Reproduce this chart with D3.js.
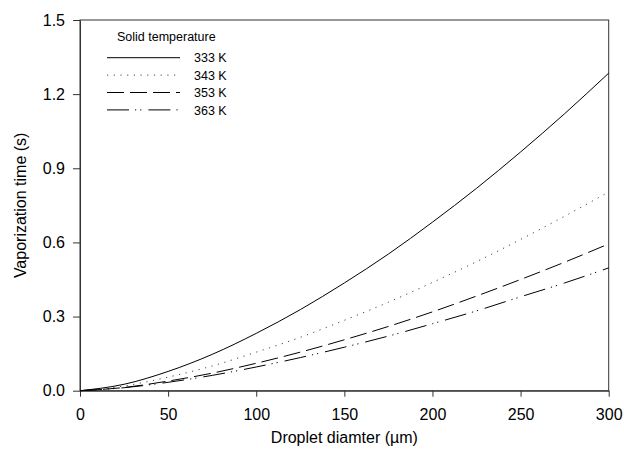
<!DOCTYPE html>
<html>
<head>
<meta charset="utf-8">
<script src="https://cdn.jsdelivr.net/npm/d3@7"></script>
<style>
  body { margin: 0; background: #fff; }
  svg { display: block; font-family: "Liberation Sans", Arial, sans-serif; }
</style>
</head>
<body>
<svg id="chart" width="624" height="450"></svg>
<script>
let WIDTH = 624, HEIGHT = 450;
let M = { top: 20, right: 15.3, bottom: 59.3, left: 80 };

// droplet diameter (um)
let diameters = [0, 25, 50, 75, 100, 125, 150, 175, 200, 225, 250, 275, 300];
// vaporization time (s)
let t333 = [0, 0.026, 0.078, 0.147, 0.232, 0.328, 0.436, 0.553, 0.682, 0.819, 0.966, 1.121, 1.285];
let t343 = [0, 0.019, 0.055, 0.100, 0.156, 0.216, 0.285, 0.358, 0.438, 0.522, 0.612, 0.706, 0.804];
let t353 = [0, 0.013, 0.039, 0.071, 0.111, 0.156, 0.206, 0.260, 0.319, 0.383, 0.450, 0.520, 0.594];
let t363 = [0, 0.012, 0.034, 0.062, 0.096, 0.134, 0.176, 0.221, 0.271, 0.323, 0.380, 0.436, 0.497];

let seriesNames = ["333 K", "343 K", "353 K", "363 K"];
let xTicks = [0, 50, 100, 150, 200, 250, 300];
let yTicks = [0, 0.3, 0.6, 0.9, 1.2, 1.5];

let styles = [
    { dash: null, color: "#000" },
    { dash: "1.2,5.5", color: "#444" },
    { dash: "17,6", color: "#000" },
    { dash: "22,6,1.2,4,1.2,7", color: "#000" }
];

let svg = d3.select("#chart");

let x = d3.scaleLinear().domain([0, 300]).range([M.left, WIDTH - M.right]);
let y = d3.scaleLinear().domain([0, 1.5]).range([HEIGHT - M.bottom, M.top]);

// frame
svg.append("rect")
    .attr("x", x(0)).attr("y", y(1.5))
    .attr("width", x(300) - x(0)).attr("height", y(0) - y(1.5))
    .attr("fill", "none").attr("stroke", "#333").attr("stroke-width", 1);

let xAxis = svg.append("g")
    .attr("transform", `translate(0,${y(0)})`)
    .call(d3.axisBottom(x).tickValues(xTicks).tickSize(6).tickPadding(12).tickSizeOuter(0).tickFormat(d3.format("d")));

let yAxis = svg.append("g")
    .attr("transform", `translate(${x(0)},0)`)
    .call(d3.axisLeft(y).tickValues(yTicks).tickSize(7).tickPadding(8).tickSizeOuter(0).tickFormat(d3.format(".1f")));

[xAxis, yAxis].forEach(function (g) {
    g.selectAll("path, line").attr("stroke", "#333");
    g.selectAll("text").attr("fill", "#000").style("font-size", "16px")
        .style("font-family", '"Liberation Sans", Arial, sans-serif');
});

// curves
let series = [t333, t343, t353, t363].map(function (vals, i) {
    return { name: seriesNames[i], pts: diameters.map((d, j) => [d, vals[j]]) };
});

let line = d3.line()
    .x(d => x(d[0]))
    .y(d => y(d[1]))
    .curve(d3.curveMonotoneX);

svg.append("g").selectAll("path")
    .data(series)
    .join("path")
    .attr("d", d => line(d.pts))
    .attr("fill", "none")
    .attr("stroke", (d, i) => styles[i].color)
    .attr("stroke-width", 1)
    .attr("stroke-dasharray", (d, i) => styles[i].dash);

// axis titles
svg.append("text")
    .attr("x", (x(0) + x(300)) / 2)
    .attr("y", 443)
    .attr("text-anchor", "middle")
    .style("font-size", "16px")
    .text("Droplet diamter (\u00b5m)");

svg.append("text")
    .attr("transform", `translate(26,${(y(0) + y(1.5)) / 2}) rotate(-90)`)
    .attr("text-anchor", "middle")
    .style("font-size", "16px")
    .text("Vaporization time (s)");

// legend
let legend = svg.append("g");
legend.append("text")
    .attr("x", 117).attr("y", 40.7)
    .style("font-size", "12.5px")
    .text("Solid temperature");

let rows = legend.selectAll("g.row")
    .data(series)
    .join("g")
    .attr("class", "row")
    .attr("transform", (d, i) => `translate(0,${57.7 + i * 17.4})`);

rows.append("line")
    .attr("x1", 107).attr("x2", 180)
    .attr("stroke", (d, i) => styles[i].color)
    .attr("stroke-width", 1)
    .attr("stroke-dasharray", (d, i) => styles[i].dash);

rows.append("text")
    .attr("x", 194).attr("y", 4.6)
    .style("font-size", "12.5px")
    .text(d => d.name);
</script>
</body>
</html>
